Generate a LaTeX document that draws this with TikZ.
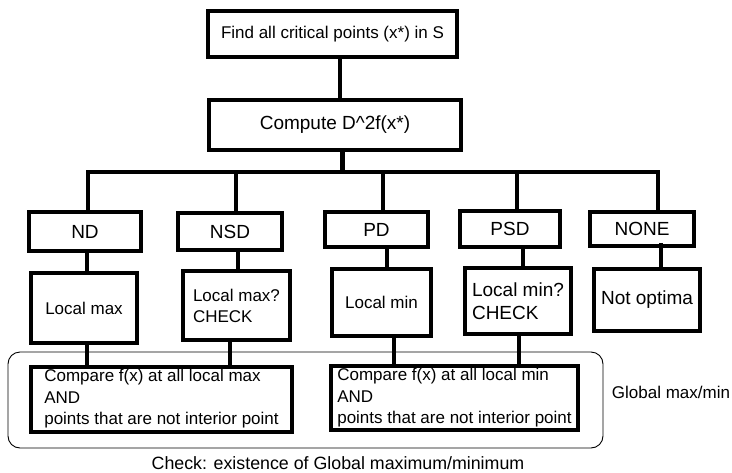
\documentclass[tikz,border=0pt]{standalone}
\usepackage{fontspec}
\setmainfont{Liberation Sans}

\begin{document}
\begin{tikzpicture}[x=1pt,y=-1pt,
  box/.style={draw,line width=4pt,inner sep=2pt,font=\fontsize{17}{21}\selectfont},
  bigbox/.style={box,font=\fontsize{19}{23}\selectfont},
  link/.style={line width=4.5pt}]
\useasboundingbox (0,0) rectangle (732,472);

\node[box,minimum width=249,minimum height=46] (find) at (332.5,34) {Find all critical points (x*) in S};
\node[bigbox,minimum width=252,minimum height=50] (hess) at (335,125) {Compute D\textasciicircum 2f(x*)};

% definiteness of D^2f
\node[bigbox,minimum width=112,minimum height=39] (nd) at (85,231.5) {ND};
\node[bigbox,minimum width=104,minimum height=37] (nsd) at (230,231.5) {NSD};
\node[bigbox,minimum width=103,minimum height=35] (pd) at (376.5,229.5) {PD};
\node[bigbox,minimum width=100,minimum height=36] (psd) at (510,229) {PSD};
\node[bigbox,minimum width=104,minimum height=34] (none) at (642,229) {NONE};

\node[box,minimum width=106,minimum height=70] (lmax) at (84,308) {Local max};
\node[box,minimum width=107,minimum height=69,align=left] (lmaxq) at (236.5,305.5) {Local max?\\CHECK};
\node[box,minimum width=99,minimum height=67] (lmin) at (381.5,302.5) {Local min};
\node[bigbox,minimum width=106,minimum height=66,align=left] (lminq) at (518,301) {Local min?\\CHECK};
\node[bigbox,minimum width=106,minimum height=62] (notopt) at (647,300) {Not optima};

% global check
\node[draw,line width=0.9pt,rounded corners=12pt,minimum width=595,minimum height=96] (frame) at (305.5,400) {};
\node[box,font=\fontsize{17}{21.5}\selectfont,minimum width=261,minimum height=65,align=left] (cmpmax) at (161.5,399) {Compare f(x) at all local max\\AND\\points that are not interior point};
\node[box,font=\fontsize{17}{21.5}\selectfont,minimum width=247,minimum height=64,align=left] (cmpmin) at (454.5,398) {Compare f(x) at all local min\\AND\\points that are not interior point};
\node[font=\fontsize{17}{21}\selectfont] (glabel) at (671,392) {Global max/min};
\node[font=\fontsize{17.8}{21}\selectfont] (clabel) at (338,463) {Check: existence of Global maximum/minimum};

\draw[link] ([xshift=7.5]find.south) -- ([xshift=5]hess.north);
\coordinate (bus) at (0,172);
\draw[link] ([xshift=7.5]hess.south) -- ([xshift=7.5]hess.south |- bus);
\draw[link] ([xshift=3]nd.north) |- ([xshift=16]none.north |- bus) -- ([xshift=16]none.north);
\draw[link] ([xshift=6]nsd.north |- bus) -- ([xshift=6]nsd.north);
\draw[link] ([xshift=6.5]pd.north |- bus) -- ([xshift=6.5]pd.north);
\draw[link] ([xshift=7]psd.north |- bus) -- ([xshift=7]psd.north);

\draw[link] ([xshift=2]nd.south) -- ([xshift=2]nd.south |- lmax.north);
\draw[link] ([xshift=8]nsd.south) -- ([xshift=8]nsd.south |- lmaxq.north);
\draw[link] ([xshift=10.5]pd.south) -- ([xshift=10.5]pd.south |- lmin.north);
\draw[link] ([xshift=13]psd.south) -- ([xshift=13]psd.south |- lminq.north);
\draw[link] ([xshift=19,yshift=5]none.south) -- ([xshift=19]none.south |- notopt.north);

\draw[link] ([xshift=3]lmax.south) -- ([xshift=3]lmax.south |- cmpmax.north);
\draw[link] ([xshift=-6.5]lmaxq.south) -- ([xshift=-6.5]lmaxq.south |- cmpmax.north);
\draw[link] ([xshift=12.5]lmin.south) -- ([xshift=12.5]lmin.south |- cmpmin.north);
\draw[link] ([xshift=1]lminq.south) -- ([xshift=1]lminq.south |- cmpmin.north);
\end{tikzpicture}
\end{document}
